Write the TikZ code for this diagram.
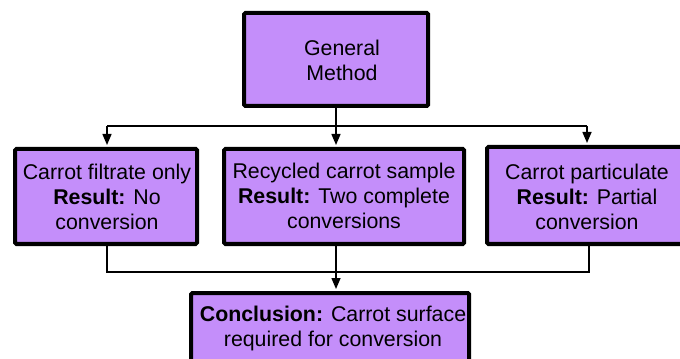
\documentclass[tikz,border=0pt]{standalone}
\usepackage{fontspec}
\setmainfont{Liberation Sans}
\usetikzlibrary{arrows.meta}
\definecolor{boxfill}{RGB}{196,142,250}
\begin{document}
\begin{tikzpicture}[x=0.75pt,y=-0.75pt,
  stagebox/.style={draw=black, line width=3pt, fill=boxfill, rounded corners=1pt,
    inner sep=0pt, rectangle},
  boxtext/.style={align=center, inner sep=0pt,
    font=\fontsize{16pt}{18.75pt}\selectfont},
  link/.style={draw=black, line width=1.1pt},
  flow/.style={link, -{Triangle[width=6.75pt,length=8.25pt]}, shorten >=1.5pt}]
\useasboundingbox (0,0) rectangle (680,359);
\begin{scope}
\clip (0,0) rectangle (680,359);

% boxes
\node[stagebox, minimum width=138pt, minimum height=69.75pt] (method) at (336,59.5) {};
\node[stagebox, minimum width=136.5pt, minimum height=71.25pt] (filtrate) at (106,196.5) {};
\node[stagebox, minimum width=180pt, minimum height=71.25pt] (recycled) at (344,196.5) {};
\node[stagebox, minimum width=150pt, minimum height=72.75pt] (particulate) at (587,195.5) {};
\node[stagebox, minimum width=208.5pt, minimum height=65.25pt] (conclusion) at (330,336.5) {};

% box texts
\node[boxtext] (methodtxt) at (342,60) {General\\Method};
\node[boxtext] (filtratetxt) at (107,197) {Carrot filtrate only\\\textbf{Result:} No\\conversion};
\node[boxtext] (recycledtxt) at (344,196) {Recycled carrot sample\\\textbf{Result:} Two complete\\conversions};
\node[boxtext] (particulatetxt) at (587,197) {Carrot particulate\\\textbf{Result:} Partial\\conversion};
\node[boxtext] (conclusiontxt) at (333,328.5) {\textbf{Conclusion:} Carrot surface\\required for conversion};

% branching from the method box
\coordinate (jl) at (107,126);
\coordinate (jm) at (336,126);
\coordinate (jr) at (587,126);
\draw[link] (method.south) -- (jm);
\draw[link] (jl) -- (jr);
\draw[flow] (jl) -- (jl |- filtrate.north);
\draw[flow] (jm) -- (jm |- recycled.north);
\draw[flow] (jr) -- (jr |- particulate.north);

% merging into the conclusion box
\coordinate (bl) at (107,272);
\coordinate (br) at (589,272);
\draw[link] (bl |- filtrate.south) -- (bl) -- (br) -- (br |- particulate.south);
\draw[flow] (jm |- recycled.south) -- (jm |- conclusion.north);
\end{scope}
\end{tikzpicture}
\end{document}
